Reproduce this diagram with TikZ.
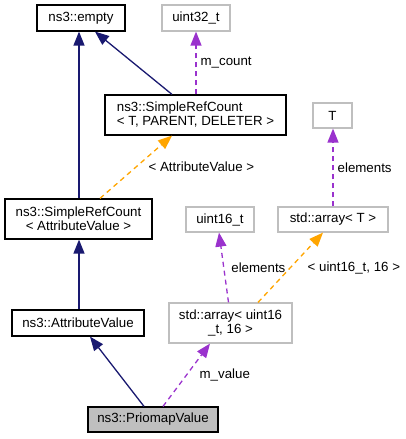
\documentclass[tikz,border=0pt]{standalone}
\usepackage{fontspec}
\setmainfont{Liberation Sans}
\usepackage{xcolor}
\usetikzlibrary{arrows.meta}
\definecolor{edgeblue}{HTML}{191970}
\definecolor{edgepurple}{HTML}{9A32CD}
\definecolor{edgeorange}{HTML}{FFA500}
\definecolor{boxgray}{HTML}{BFBFBF}
\tikzset{
	box/.style={draw=black, line width=1.2pt, inner sep=0pt, font=\fontsize{13.3}{14}\selectfont},
	extbox/.style={box, draw=boxgray},
	curbox/.style={box, fill=boxgray},
	inherit/.style={draw=edgeblue, line width=1.3pt, -{Triangle[length=14pt,width=11pt]}},
	member/.style={draw=edgepurple, line width=1.3pt, dash pattern=on 5pt off 4pt, -{Triangle[length=14pt,width=11pt]}},
	tmpl/.style={member, draw=edgeorange},
	lbl/.style={font=\fontsize{13.3}{14}\selectfont, inner sep=0pt, anchor=west, text=black}
}

\begin{document}
\begin{tikzpicture}[x=1pt, y=-1pt]
	\useasboundingbox (0,0) rectangle (405,439);

	% Classes
	\node[box, minimum width=88pt, minimum height=26pt] (empty) at (81,18) {ns3::empty};
	\node[extbox, minimum width=68pt, minimum height=26pt] (uint32) at (196,18) {uint32\_t};
	\node[box, minimum width=181pt, minimum height=40pt, align=left] (srctpd) at (195.5,115) {ns3::SimpleRefCount\\< T, PARENT, DELETER >};
	\node[extbox, minimum width=39pt, minimum height=25pt] (T) at (332.5,115.5) {T};
	\node[box, minimum width=147pt, minimum height=40pt, align=center] (srcav) at (78.5,219) {ns3::SimpleRefCount\\< AttributeValue >};
	\node[extbox, minimum width=68pt, minimum height=25pt] (uint16) at (220,219.5) {uint16\_t};
	\node[extbox, minimum width=110pt, minimum height=25pt] (arrT) at (333,219.5) {std::array< T >};
	\node[box, minimum width=132pt, minimum height=26pt] (attrval) at (78,323) {ns3::AttributeValue};
	\node[extbox, minimum width=123pt, minimum height=40pt, align=center] (arr16) at (230.5,323) {std::array< uint16\\\_t, 16 >};
	\node[curbox, minimum width=130pt, minimum height=25pt] (priomap) at (153,419.5) {ns3::PriomapValue};

	% Inheritance
	\draw[inherit] ([xshift=0.5pt]srcav.north) -- ([xshift=0.5pt]srcav.north |- empty.south);
	\draw[inherit] ([xshift=-23.5pt]srctpd.north) -- ([xshift=14pt]empty.south);
	\draw[inherit] ([xshift=1pt]attrval.north) -- ([xshift=1pt]attrval.north |- srcav.south);
	\draw[inherit] ([xshift=-9pt]priomap.north) -- ([xshift=12pt]attrval.south);

	% Members
	\draw[member] ([xshift=0.5pt]srctpd.north) -- node[lbl, xshift=4pt] {m\_count} ([xshift=0.5pt]srctpd.north |- uint32.south);
	\draw[member] ([xshift=10pt]priomap.north) -- node[lbl, xshift=12.5pt] {m\_value} ([xshift=-20.5pt]arr16.south);
	\draw[member] ([xshift=-2pt]arr16.north) -- node[lbl, xshift=7pt] {elements} ([xshift=-1pt]uint16.south);
	\draw[member] (arrT.north) -- node[lbl, xshift=4pt] {elements} (arrT.north |- T.south);

	% Template instances
	\draw[tmpl] ([xshift=21.5pt]srcav.north) -- node[lbl, xshift=12pt] {< AttributeValue >} ([xshift=-23.5pt]srctpd.south);
	\draw[tmpl] ([xshift=27.5pt]arr16.north) -- node[lbl, xshift=16.5pt] {< uint16\_t, 16 >} ([xshift=-10pt]arrT.south);
\end{tikzpicture}
\end{document}
